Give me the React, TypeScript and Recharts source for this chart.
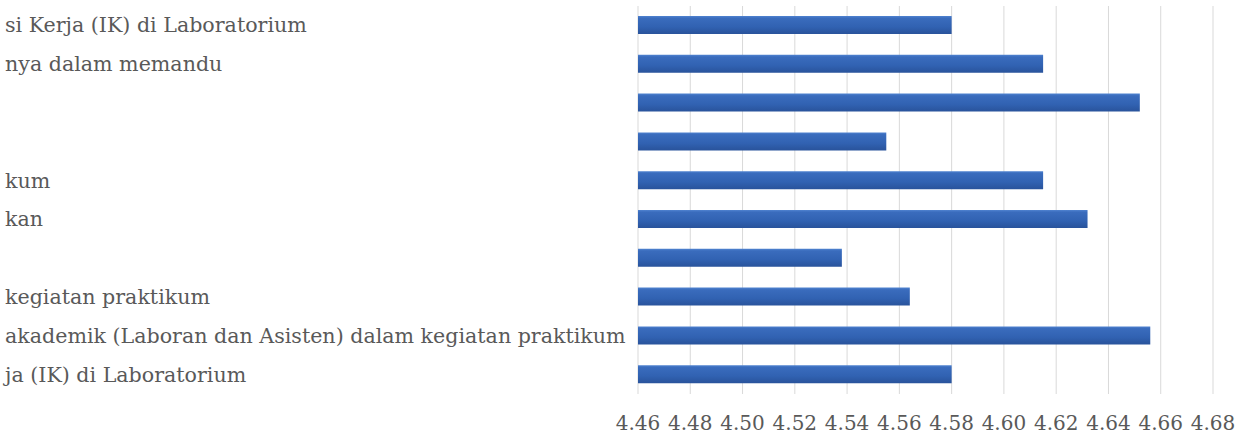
import { BarChart, Bar, XAxis, YAxis, CartesianGrid } from "recharts";

// visible part of each category label (the reference is cropped on the left)
const categories = [
  "si Kerja (IK) di Laboratorium",
  "nya dalam memandu",
  "",
  "",
  "kum",
  "kan",
  "",
  "kegiatan praktikum",
  "akademik (Laboran dan Asisten) dalam kegiatan praktikum",
  "ja (IK) di Laboratorium",
];

const scores = [4.58, 4.615, 4.652, 4.555, 4.615, 4.632, 4.538, 4.564, 4.656, 4.58];

const xTicks = [4.46, 4.48, 4.5, 4.52, 4.54, 4.56, 4.58, 4.6, 4.62, 4.64, 4.66, 4.68];

const data = categories.map((name, i) => ({ name, value: scores[i] }));

const FONT = "'DejaVu Serif', serif";

const CategoryTick = (props: any) => {
  const { y, payload } = props;
  return (
    <text x={5} y={y} textAnchor="start" dominantBaseline="central" fontFamily={FONT} fontSize={20.6} fill="#595959">
      {payload.value}
    </text>
  );
};

export default function App() {
  return (
    <div>
      <style>{`body{margin:0}`}</style>
      <BarChart
        width={1243}
        height={436}
        data={data}
        layout="vertical"
        margin={{ top: 6, right: 30, bottom: 0, left: 0 }}
        barSize={18}
      >
        <defs>
          <linearGradient id="barFill" x1="0" y1="0" x2="0" y2="1">
            <stop offset="0%" stopColor="#5083d0" />
            <stop offset="12%" stopColor="#3a6cbd" />
            <stop offset="60%" stopColor="#3162b2" />
            <stop offset="100%" stopColor="#29539b" />
          </linearGradient>
        </defs>
        <CartesianGrid horizontal={false} stroke="#d9d9d9" />
        <XAxis
          type="number"
          domain={[4.46, 4.68]}
          ticks={xTicks}
          tickFormatter={(v: number) => v.toFixed(2)}
          axisLine={false}
          tickLine={false}
          tickMargin={16}
          height={42}
          interval={0}
          tick={{ fontFamily: FONT, fontSize: 20, fill: "#595959" }}
          allowDataOverflow
        />
        <YAxis
          type="category"
          dataKey="name"
          width={638}
          axisLine={false}
          tickLine={false}
          interval={0}
          tick={<CategoryTick />}
        />
        <Bar dataKey="value" fill="url(#barFill)" isAnimationActive={false} />
      </BarChart>
    </div>
  );
}
